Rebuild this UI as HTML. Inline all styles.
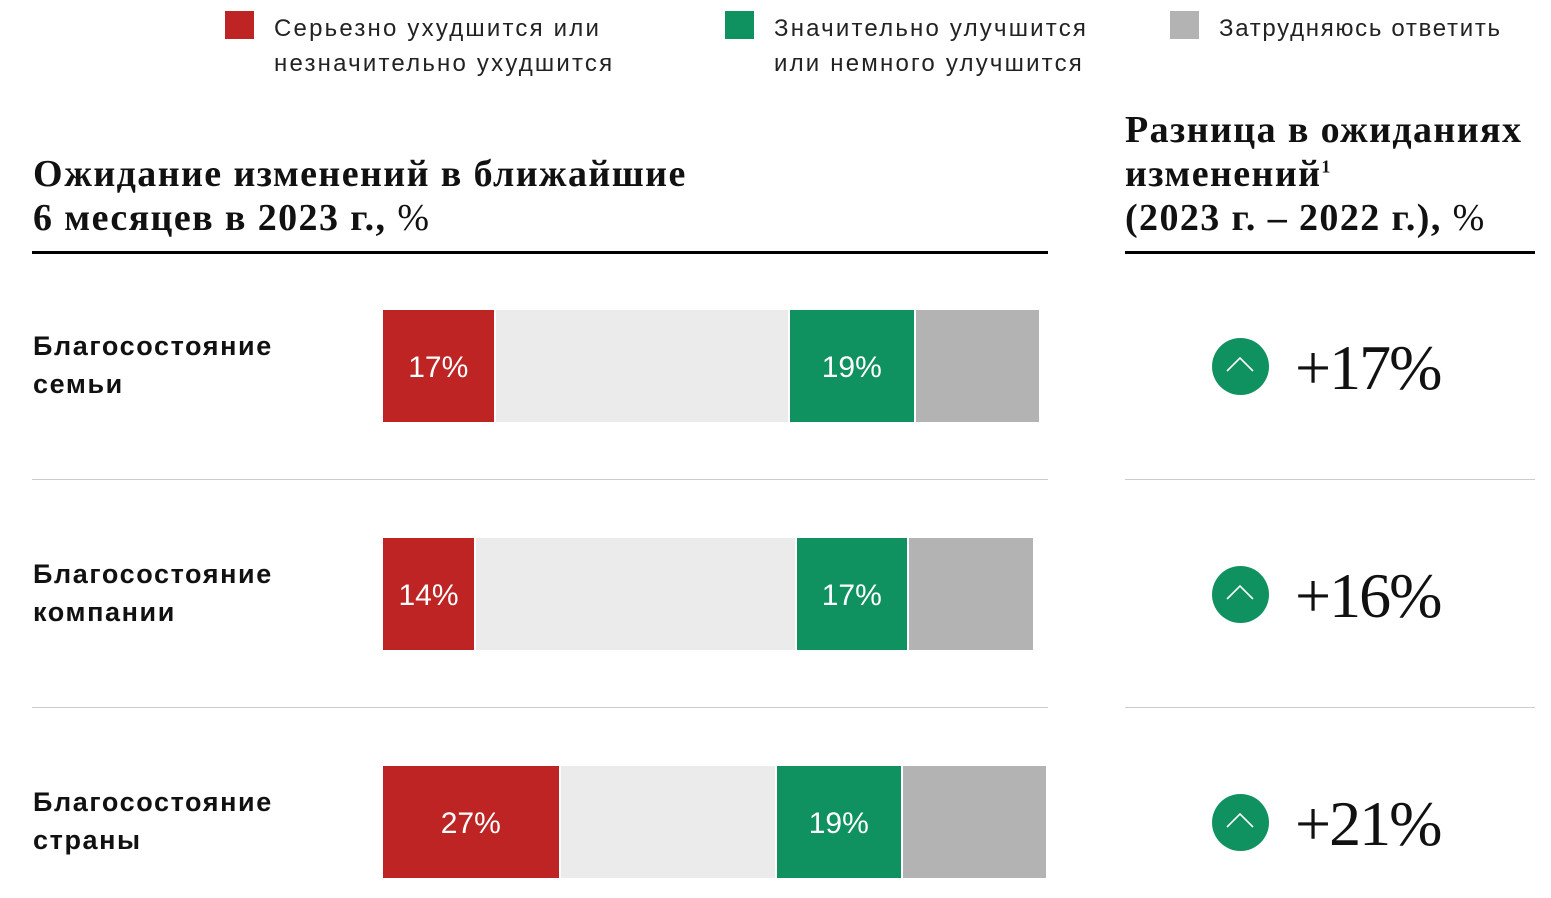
<!DOCTYPE html>
<html><head><meta charset="utf-8"><style>
body{margin:0;width:1551px;height:898px;background:#fff;position:relative;overflow:hidden;font-family:"Liberation Sans",sans-serif}
.a{position:absolute}
.leg{font-size:24px;letter-spacing:2.2px;line-height:35px;color:#222}
.sw{width:29px;height:28px}
.title{font-family:"Liberation Serif",serif;font-weight:bold;font-size:38px;line-height:44px;letter-spacing:1.4px;color:#111}
.lbl{font-weight:bold;font-size:27px;line-height:38px;letter-spacing:1.6px;color:#111}
.num{font-family:"Liberation Serif",serif;font-size:64px;color:#111;letter-spacing:-2px}
</style></head><body>
<div class="a sw" style="left:225px;top:11px;background:#be2423"></div>
<div class="a leg" style="left:274px;top:11px">Серьезно ухудшится или<br>незначительно ухудшится</div>
<div class="a sw" style="left:725px;top:11px;background:#0f9160"></div>
<div class="a leg" style="left:774px;top:11px">Значительно улучшится<br>или немного улучшится</div>
<div class="a sw" style="left:1170px;top:11px;background:#b3b3b3"></div>
<div class="a leg" style="left:1219px;top:11px;letter-spacing:1.7px">Затрудняюсь ответить</div>
<div class="a title" style="left:33px;top:152px">Ожидание изменений в ближайшие<br>6 месяцев в 2023 г., <span style="font-weight:normal">%</span></div>
<div class="a title" style="left:1125px;top:108px">Разница в ожиданиях<br>изменений<sup style="font-size:18px;line-height:0">1</sup><br>(2023 г. – 2022 г.), <span style="font-weight:normal">%</span></div>
<div class="a" style="left:32px;top:251px;width:1016px;height:3px;background:#000"></div>
<div class="a" style="left:1125px;top:251px;width:410px;height:3px;background:#000"></div>
<div class="a" style="left:32px;top:479px;width:1016px;height:1px;background:#ccc"></div>
<div class="a" style="left:32px;top:707px;width:1016px;height:1px;background:#ccc"></div>
<div class="a" style="left:1125px;top:479px;width:410px;height:1px;background:#ccc"></div>
<div class="a" style="left:1125px;top:707px;width:410px;height:1px;background:#ccc"></div>
<div id="chart"></div>
<script>
const categories=["Благосостояние<br>семьи","Благосостояние<br>компании","Благосостояние<br>страны"];
const worse=[17,14,27];
const neutral=[45,49,33];
const better=[19,17,19];
const unsure=[19,19,22];
const diffs=[17,16,21];
const root=document.getElementById('chart');
const X0=383,SC=6.5,GAP=2,ROWH=228,TOP=310,BH=112;
const cols=['#be2423','#ebebeb','#0f9160','#b3b3b3'];
const segNames=['bar-worse','bar-neutral','bar-better','bar-unsure'];
function xs(v){return v*SC;}
categories.forEach((c,i)=>{
  const y=TOP+i*ROWH;
  const l=document.createElement('div');l.className='a lbl';l.style.left='33px';l.style.top=(y+17)+'px';l.innerHTML=c;
  
  
  root.appendChild(l);
  const vals=[worse[i],neutral[i],better[i],unsure[i]];
  let x=X0;
  vals.forEach((v,k)=>{
    const w=xs(v);
    const b=document.createElement('div');b.className='a';
    b.style.cssText=`left:${x}px;top:${y}px;width:${w}px;height:${BH}px;background:${cols[k]};color:#fff;font-size:30px;display:flex;align-items:center;justify-content:center;padding-top:3px;box-sizing:border-box`;
    if(k==0||k==2)b.textContent=v+'%';
    
    
    root.appendChild(b);
    x+=w+GAP;
  });
  const cy=y+56;
  const circ=document.createElement('div');circ.className='a';
  circ.style.cssText=`left:1212px;top:${cy-28}px;width:57px;height:57px;border-radius:50%;background:#0f9160`;
  circ.innerHTML='<svg width="57" height="57"><polyline points="15,33 28,20 41,33" fill="none" stroke="#fff" stroke-width="1.6"/></svg>';
  
  
  root.appendChild(circ);
  const n=document.createElement('div');n.className='a num';n.style.left='1295px';n.style.top=(cy-34)+'px';n.style.lineHeight='72px';
  n.textContent='+'+diffs[i]+'%';
  
  
  root.appendChild(n);
});
</script>
</body></html>
